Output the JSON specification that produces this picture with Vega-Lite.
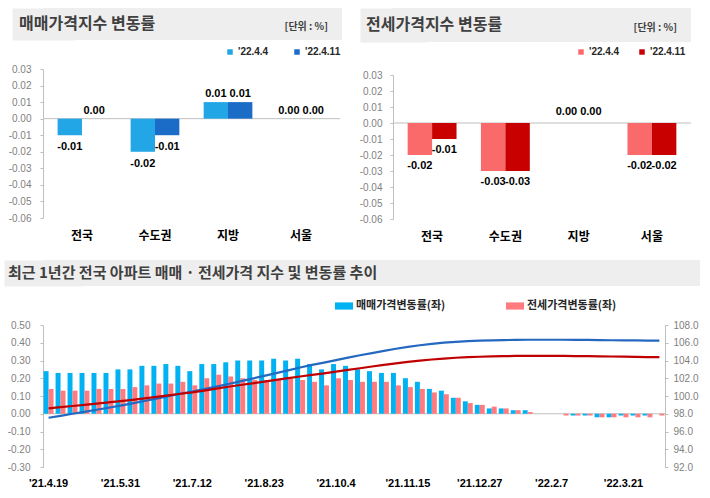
{
 "$schema": "https://vega.github.io/schema/vega-lite/v6.json",
 "padding": {"left": 7, "top": 8, "right": 2, "bottom": 2},
 "background": "white",
 "config": {
  "view": {"stroke": null},
  "font": "Noto Sans CJK KR",
  "locale": {"number": {"decimal": ".", "thousands": ",", "grouping": [3], "currency": ["", ""], "minus": "-"}},
  "axis": {"labelFont": "Liberation Sans", "labelColor": "#7f7f7f", "labelFontSize": 10, "domainColor": "#bfbfbf", "tickColor": "#bfbfbf", "tickSize": 3, "grid": false, "title": null, "labelOverlap": false},
  "axisY": {"labelOverlap": false},
  "legend": {"labelFont": "Liberation Sans", "labelFontWeight": "bold", "labelColor": "#262626", "title": null}
 },
 "spacing": 18,
 "align": "none",
 "resolve": {"scale": {"color": "independent", "xOffset": "independent"}, "legend": {"color": "independent"}},
 "vconcat": [
  {
   "spacing": 17,
   "align": "none",
   "resolve": {"scale": {"color": "independent", "xOffset": "independent"}, "legend": {"color": "independent"}},
   "hconcat": [
    {
     "spacing": 7,
     "align": "none",
     "resolve": {"scale": {"color": "independent", "xOffset": "independent"}, "legend": {"color": "independent"}},
     "vconcat": [
      {
       "width": 299, "height": 32,
       "view": {"fill": "#eeeeee", "stroke": null},
       "data": {"values": [{"t": "매매가격지수 변동률", "u": "[단위 : %]"}]},
       "encoding": {"y": {"datum": 0.5, "type": "quantitative", "scale": {"domain": [0, 1]}, "axis": {"domain": true, "domainColor": "#eeeeee", "domainWidth": 62, "labels": false, "ticks": false, "grid": false, "title": null}}},
       "layer": [
        {"mark": {"type": "text", "align": "left", "baseline": "middle", "dx": -24, "fontSize": 16, "fontWeight": "bold", "color": "#404040", "font": "Noto Sans CJK KR"},
         "encoding": {"text": {"field": "t"}, "x": {"datum": 0, "type": "quantitative", "scale": {"domain": [0, 1]}, "axis": null}}},
        {"mark": {"type": "text", "align": "right", "baseline": "middle", "dx": -14, "dy": 3, "fontSize": 10, "fontWeight": "bold", "color": "#404040", "font": "Noto Sans CJK KR"},
         "encoding": {"text": {"field": "u"}, "x": {"datum": 1, "type": "quantitative", "scale": {"domain": [0, 1]}, "axis": null}}}
       ]
      },
      {
       "width": 297, "height": 149,
       "data": {"values": [
        {"r": "전국", "w": "'22.4.4", "v": -0.01},
        {"r": "전국", "w": "'22.4.11", "v": 0.0},
        {"r": "수도권", "w": "'22.4.4", "v": -0.02},
        {"r": "수도권", "w": "'22.4.11", "v": -0.01},
        {"r": "지방", "w": "'22.4.4", "v": 0.01},
        {"r": "지방", "w": "'22.4.11", "v": 0.01},
        {"r": "서울", "w": "'22.4.4", "v": 0.0},
        {"r": "서울", "w": "'22.4.11", "v": 0.0}
       ]},
       "layer": [
        {"data": {"values": [{}]}, "mark": {"type": "rule", "color": "#bfbfbf"}, "encoding": {"y": {"datum": 0, "type": "quantitative", "scale": {"domain": [-0.06, 0.03], "nice": false, "zero": false}, "axis": {"values": [-0.06, -0.05, -0.04, -0.03, -0.02, -0.01, 0, 0.01, 0.02, 0.03], "format": ".2f", "labelPadding": 9, "labelOverlap": false}}}},
        {"mark": {"type": "bar"},
         "encoding": {
          "x": {"field": "r", "type": "nominal", "sort": ["전국", "수도권", "지방", "서울"], "scale": {"paddingInner": 0.333, "paddingOuter": 0.2}, "axis": {"labelFont": "Noto Sans CJK KR", "labelFontWeight": "bold", "labelFontSize": 12, "labelColor": "#000000", "domain": false, "ticks": false, "labelPadding": 12, "labelAngle": 0}},
          "xOffset": {"field": "w", "type": "nominal", "sort": ["'22.4.4", "'22.4.11"]},
          "y": {"field": "v", "type": "quantitative", "scale": {"domain": [-0.06, 0.03], "nice": false, "zero": false}, "axis": {"values": [-0.06, -0.05, -0.04, -0.03, -0.02, -0.01, 0, 0.01, 0.02, 0.03], "format": ".2f", "labelPadding": 9, "labelOverlap": false}},
          "color": {"field": "w", "type": "nominal", "scale": {"domain": ["'22.4.4", "'22.4.11"], "range": ["#22a6e6", "#1b6cc6"]}, "legend": {"orient": "none", "legendX": 182, "legendY": -22, "direction": "horizontal", "symbolType": "square", "symbolSize": 30, "symbolStrokeWidth": 0, "labelFontSize": 10, "columnPadding": 23, "labelOffset": 3}}
         }},
        {"transform": [{"filter": "datum.v < 0"}],
         "mark": {"type": "text", "baseline": "top", "dy": 6, "font": "Liberation Sans", "fontSize": 11, "fontWeight": "bold", "color": "#000000"},
         "encoding": {
          "x": {"field": "r", "type": "nominal", "sort": ["전국", "수도권", "지방", "서울"]},
          "xOffset": {"field": "w", "type": "nominal", "sort": ["'22.4.4", "'22.4.11"]},
          "y": {"field": "v", "type": "quantitative", "scale": {"domain": [-0.06, 0.03], "nice": false, "zero": false}, "axis": {"values": [-0.06, -0.05, -0.04, -0.03, -0.02, -0.01, 0, 0.01, 0.02, 0.03], "format": ".2f", "labelPadding": 9, "labelOverlap": false}},
          "text": {"field": "v", "type": "quantitative", "format": ".2f"}
         }},
        {"transform": [{"filter": "datum.v >= 0"}],
         "mark": {"type": "text", "baseline": "bottom", "dy": -3, "font": "Liberation Sans", "fontSize": 11, "fontWeight": "bold", "color": "#000000"},
         "encoding": {
          "x": {"field": "r", "type": "nominal", "sort": ["전국", "수도권", "지방", "서울"]},
          "xOffset": {"field": "w", "type": "nominal", "sort": ["'22.4.4", "'22.4.11"]},
          "y": {"field": "v", "type": "quantitative", "scale": {"domain": [-0.06, 0.03], "nice": false, "zero": false}, "axis": {"values": [-0.06, -0.05, -0.04, -0.03, -0.02, -0.01, 0, 0.01, 0.02, 0.03], "format": ".2f", "labelPadding": 9, "labelOverlap": false}},
          "text": {"field": "v", "type": "quantitative", "format": ".2f"}
         }}
       ]
      }
     ]
    },
    {
     "spacing": 5,
     "align": "none",
     "resolve": {"scale": {"color": "independent", "xOffset": "independent"}, "legend": {"color": "independent"}},
     "vconcat": [
      {
       "width": 298, "height": 34,
       "view": {"fill": "#eeeeee", "stroke": null},
       "data": {"values": [{"t": "전세가격지수 변동률", "u": "[단위 : %]"}]},
       "encoding": {"y": {"datum": 0.5, "type": "quantitative", "scale": {"domain": [0, 1]}, "axis": {"domain": true, "domainColor": "#eeeeee", "domainWidth": 66, "labels": false, "ticks": false, "grid": false, "title": null}}},
       "layer": [
        {"mark": {"type": "text", "align": "left", "baseline": "middle", "dx": -27, "fontSize": 16, "fontWeight": "bold", "color": "#404040", "font": "Noto Sans CJK KR"},
         "encoding": {"text": {"field": "t"}, "x": {"datum": 0, "type": "quantitative", "scale": {"domain": [0, 1]}, "axis": null}}},
        {"mark": {"type": "text", "align": "right", "baseline": "middle", "dx": -14, "dy": 3, "fontSize": 10, "fontWeight": "bold", "color": "#404040", "font": "Noto Sans CJK KR"},
         "encoding": {"text": {"field": "u"}, "x": {"datum": 1, "type": "quantitative", "scale": {"domain": [0, 1]}, "axis": null}}}
       ]
      },
      {
       "width": 298, "height": 144,
       "data": {"values": [
        {"r": "전국", "w": "'22.4.4", "v": -0.02},
        {"r": "전국", "w": "'22.4.11", "v": -0.01},
        {"r": "수도권", "w": "'22.4.4", "v": -0.03},
        {"r": "수도권", "w": "'22.4.11", "v": -0.03},
        {"r": "지방", "w": "'22.4.4", "v": 0.0},
        {"r": "지방", "w": "'22.4.11", "v": 0.0},
        {"r": "서울", "w": "'22.4.4", "v": -0.02},
        {"r": "서울", "w": "'22.4.11", "v": -0.02}
       ]},
       "layer": [
        {"data": {"values": [{}]}, "mark": {"type": "rule", "color": "#bfbfbf"}, "encoding": {"y": {"datum": 0, "type": "quantitative", "scale": {"domain": [-0.06, 0.03], "nice": false, "zero": false}, "axis": {"values": [-0.06, -0.05, -0.04, -0.03, -0.02, -0.01, 0, 0.01, 0.02, 0.03], "format": ".2f", "labelPadding": 8, "labelOverlap": false}}}},
        {"mark": {"type": "bar"},
         "encoding": {
          "x": {"field": "r", "type": "nominal", "sort": ["전국", "수도권", "지방", "서울"], "scale": {"paddingInner": 0.333, "paddingOuter": 0.2}, "axis": {"labelFont": "Noto Sans CJK KR", "labelFontWeight": "bold", "labelFontSize": 12, "labelColor": "#000000", "domain": false, "ticks": false, "labelPadding": 12, "labelAngle": 0}},
          "xOffset": {"field": "w", "type": "nominal", "sort": ["'22.4.4", "'22.4.11"]},
          "y": {"field": "v", "type": "quantitative", "scale": {"domain": [-0.06, 0.03], "nice": false, "zero": false}, "axis": {"values": [-0.06, -0.05, -0.04, -0.03, -0.02, -0.01, 0, 0.01, 0.02, 0.03], "format": ".2f", "labelPadding": 8, "labelOverlap": false}},
          "color": {"field": "w", "type": "nominal", "scale": {"domain": ["'22.4.4", "'22.4.11"], "range": ["#fa6a6a", "#c80000"]}, "legend": {"orient": "none", "legendX": 183, "legendY": -28, "direction": "horizontal", "symbolType": "square", "symbolSize": 30, "symbolStrokeWidth": 0, "labelFontSize": 10, "columnPadding": 17, "labelOffset": 3}}
         }},
        {"transform": [{"filter": "datum.v < 0"}],
         "mark": {"type": "text", "baseline": "top", "dy": 5, "font": "Liberation Sans", "fontSize": 11, "fontWeight": "bold", "color": "#000000"},
         "encoding": {
          "x": {"field": "r", "type": "nominal", "sort": ["전국", "수도권", "지방", "서울"]},
          "xOffset": {"field": "w", "type": "nominal", "sort": ["'22.4.4", "'22.4.11"]},
          "y": {"field": "v", "type": "quantitative", "scale": {"domain": [-0.06, 0.03], "nice": false, "zero": false}, "axis": {"values": [-0.06, -0.05, -0.04, -0.03, -0.02, -0.01, 0, 0.01, 0.02, 0.03], "format": ".2f", "labelPadding": 8, "labelOverlap": false}},
          "text": {"field": "v", "type": "quantitative", "format": ".2f"}
         }},
        {"transform": [{"filter": "datum.v >= 0"}],
         "mark": {"type": "text", "baseline": "bottom", "dy": -6, "font": "Liberation Sans", "fontSize": 11, "fontWeight": "bold", "color": "#000000"},
         "encoding": {
          "x": {"field": "r", "type": "nominal", "sort": ["전국", "수도권", "지방", "서울"]},
          "xOffset": {"field": "w", "type": "nominal", "sort": ["'22.4.4", "'22.4.11"]},
          "y": {"field": "v", "type": "quantitative", "scale": {"domain": [-0.06, 0.03], "nice": false, "zero": false}, "axis": {"values": [-0.06, -0.05, -0.04, -0.03, -0.02, -0.01, 0, 0.01, 0.02, 0.03], "format": ".2f", "labelPadding": 8, "labelOverlap": false}},
          "text": {"field": "v", "type": "quantitative", "format": ".2f"}
         }}
       ]
      }
     ]
    }
   ]
  },
  {
   "spacing": 11,
   "align": "none",
   "resolve": {"scale": {"color": "independent", "xOffset": "independent"}, "legend": {"color": "independent"}},
   "vconcat": [
    {
     "width": 657, "height": 26,
     "view": {"fill": "#eeeeee", "stroke": null},
     "data": {"values": [{"t": "최근 1년간 전국 아파트 매매 · 전세가격 지수 및 변동률 추이"}]},
     "mark": {"type": "text", "align": "left", "baseline": "middle", "dx": -35, "fontSize": 15, "fontWeight": "bold", "color": "#404040", "font": "Noto Sans CJK KR"},
     "encoding": {"text": {"field": "t"}, "x": {"datum": 0, "type": "quantitative", "scale": {"domain": [0, 1]}, "axis": null}, "y": {"datum": 0.5, "type": "quantitative", "scale": {"domain": [0, 1]}, "axis": {"domain": true, "domainColor": "#eeeeee", "domainWidth": 78, "labels": false, "ticks": false, "grid": false, "title": null}}}
    },
    {
     "width": 622, "height": 142,
     "data": {"values": [
      {"d": "'21.4.19", "매매": 0.24, "전세": 0.14, "si": 97.55, "ji": 98.61},
      {"d": "'21.4.26", "매매": 0.23, "전세": 0.13, "si": 97.77, "ji": 98.74},
      {"d": "'21.5.3", "매매": 0.23, "전세": 0.13, "si": 98.0, "ji": 98.87},
      {"d": "'21.5.10", "매매": 0.23, "전세": 0.13, "si": 98.22, "ji": 99.0},
      {"d": "'21.5.17", "매매": 0.23, "전세": 0.14, "si": 98.45, "ji": 99.14},
      {"d": "'21.5.24", "매매": 0.23, "전세": 0.14, "si": 98.68, "ji": 99.28},
      {"d": "'21.5.31", "매매": 0.25, "전세": 0.14, "si": 98.92, "ji": 99.42},
      {"d": "'21.6.7", "매매": 0.25, "전세": 0.15, "si": 99.17, "ji": 99.57},
      {"d": "'21.6.14", "매매": 0.27, "전세": 0.16, "si": 99.44, "ji": 99.73},
      {"d": "'21.6.21", "매매": 0.27, "전세": 0.17, "si": 99.7, "ji": 99.9},
      {"d": "'21.6.28", "매매": 0.28, "전세": 0.17, "si": 99.98, "ji": 100.07},
      {"d": "'21.7.5", "매매": 0.27, "전세": 0.18, "si": 100.25, "ji": 100.25},
      {"d": "'21.7.12", "매매": 0.24, "전세": 0.16, "si": 100.49, "ji": 100.41},
      {"d": "'21.7.19", "매매": 0.28, "전세": 0.2, "si": 100.77, "ji": 100.61},
      {"d": "'21.7.26", "매매": 0.28, "전세": 0.22, "si": 101.06, "ji": 100.83},
      {"d": "'21.8.2", "매매": 0.29, "전세": 0.21, "si": 101.35, "ji": 101.04},
      {"d": "'21.8.9", "매매": 0.3, "전세": 0.2, "si": 101.65, "ji": 101.24},
      {"d": "'21.8.16", "매매": 0.3, "전세": 0.19, "si": 101.96, "ji": 101.43},
      {"d": "'21.8.23", "매매": 0.3, "전세": 0.19, "si": 102.26, "ji": 101.62},
      {"d": "'21.8.30", "매매": 0.31, "전세": 0.19, "si": 102.58, "ji": 101.81},
      {"d": "'21.9.6", "매매": 0.3, "전세": 0.2, "si": 102.89, "ji": 102.01},
      {"d": "'21.9.13", "매매": 0.31, "전세": 0.19, "si": 103.21, "ji": 102.2},
      {"d": "'21.9.20", "매매": 0.28, "전세": 0.18, "si": 103.5, "ji": 102.38},
      {"d": "'21.9.27", "매매": 0.25, "전세": 0.16, "si": 103.76, "ji": 102.54},
      {"d": "'21.10.4", "매매": 0.28, "전세": 0.2, "si": 104.05, "ji": 102.75},
      {"d": "'21.10.11", "매매": 0.27, "전세": 0.19, "si": 104.33, "ji": 102.94},
      {"d": "'21.10.18", "매매": 0.25, "전세": 0.18, "si": 104.59, "ji": 103.13},
      {"d": "'21.10.25", "매매": 0.24, "전세": 0.18, "si": 104.84, "ji": 103.32},
      {"d": "'21.11.1", "매매": 0.23, "전세": 0.18, "si": 105.08, "ji": 103.51},
      {"d": "'21.11.8", "매매": 0.23, "전세": 0.16, "si": 105.32, "ji": 103.68},
      {"d": "'21.11.15", "매매": 0.2, "전세": 0.15, "si": 105.53, "ji": 103.84},
      {"d": "'21.11.22", "매매": 0.18, "전세": 0.14, "si": 105.72, "ji": 103.99},
      {"d": "'21.11.29", "매매": 0.14, "전세": 0.12, "si": 105.87, "ji": 104.11},
      {"d": "'21.12.6", "매매": 0.13, "전세": 0.11, "si": 106.01, "ji": 104.22},
      {"d": "'21.12.13", "매매": 0.09, "전세": 0.09, "si": 106.1, "ji": 104.31},
      {"d": "'21.12.20", "매매": 0.07, "전세": 0.06, "si": 106.18, "ji": 104.37},
      {"d": "'21.12.27", "매매": 0.05, "전세": 0.05, "si": 106.23, "ji": 104.42},
      {"d": "'22.1.3", "매매": 0.03, "전세": 0.04, "si": 106.26, "ji": 104.46},
      {"d": "'22.1.10", "매매": 0.03, "전세": 0.03, "si": 106.3, "ji": 104.49},
      {"d": "'22.1.17", "매매": 0.02, "전세": 0.02, "si": 106.32, "ji": 104.51},
      {"d": "'22.1.24", "매매": 0.02, "전세": 0.01, "si": 106.34, "ji": 104.52},
      {"d": "'22.1.31", "매매": 0.0, "전세": 0.0, "si": 106.34, "ji": 104.52},
      {"d": "'22.2.7", "매매": 0.0, "전세": 0.0, "si": 106.34, "ji": 104.52},
      {"d": "'22.2.14", "매매": 0.0, "전세": -0.01, "si": 106.34, "ji": 104.51},
      {"d": "'22.2.21", "매매": -0.01, "전세": -0.01, "si": 106.33, "ji": 104.5},
      {"d": "'22.2.28", "매매": -0.01, "전세": -0.01, "si": 106.32, "ji": 104.49},
      {"d": "'22.3.7", "매매": -0.02, "전세": -0.02, "si": 106.3, "ji": 104.47},
      {"d": "'22.3.14", "매매": -0.02, "전세": -0.02, "si": 106.28, "ji": 104.45},
      {"d": "'22.3.21", "매매": -0.01, "전세": -0.02, "si": 106.27, "ji": 104.43},
      {"d": "'22.3.28", "매매": -0.01, "전세": -0.02, "si": 106.26, "ji": 104.41},
      {"d": "'22.4.4", "매매": -0.01, "전세": -0.02, "si": 106.25, "ji": 104.39},
      {"d": "'22.4.11", "매매": 0.0, "전세": -0.01, "si": 106.25, "ji": 104.38}
     ]},
     "layer": [
      {
       "layer": [
        {"data": {"values": [{}]}, "mark": {"type": "rule", "color": "#bfbfbf"}, "encoding": {"y": {"datum": 0, "type": "quantitative", "scale": {"domain": [-0.3, 0.5], "nice": false, "zero": false}, "axis": {"values": [-0.3, -0.2, -0.1, 0, 0.1, 0.2, 0.3, 0.4, 0.5], "format": ".2f", "labelPadding": 10, "labelOverlap": false}}}},
        {"transform": [{"fold": ["매매", "전세"], "as": ["k", "rate"]}],
         "mark": {"type": "bar"},
         "encoding": {
          "x": {"field": "d", "type": "ordinal", "sort": null, "scale": {"paddingInner": 0.17, "paddingOuter": 0.05}, "axis": {"values": ["'21.4.19", "'21.5.31", "'21.7.12", "'21.8.23", "'21.10.4", "'21.11.15", "'21.12.27", "'22.2.7", "'22.3.21"], "labelFont": "Liberation Sans", "labelFontWeight": "bold", "labelFontSize": 11, "labelColor": "#000000", "domain": false, "ticks": false, "labelPadding": 10, "labelAngle": 0}},
          "xOffset": {"field": "k", "type": "nominal", "sort": ["매매", "전세"]},
          "y": {"field": "rate", "type": "quantitative", "scale": {"domain": [-0.3, 0.5], "nice": false, "zero": false}, "axis": {"values": [-0.3, -0.2, -0.1, 0, 0.1, 0.2, 0.3, 0.4, 0.5], "format": ".2f", "labelPadding": 10, "labelOverlap": false}},
          "color": {"field": "k", "type": "nominal", "scale": {"domain": ["매매", "전세"], "range": ["#00b2f2", "#ff7b80"]}, "legend": {"orient": "none", "legendX": 292, "legendY": -28, "direction": "horizontal", "symbolType": "M-1,-0.4H1V0.4H-1Z", "symbolSize": 324, "symbolStrokeWidth": 0, "labelFont": "Noto Sans CJK KR", "labelFontSize": 11, "labelColor": "#262626", "columnPadding": 60, "labelOffset": 3, "labelExpr": "datum.label + '가격변동률(좌)'"}}
         }}
       ]
      },
      {
       "layer": [
        {"mark": {"type": "line", "color": "#2468c0", "strokeWidth": 2.2},
         "encoding": {
          "x": {"field": "d", "type": "ordinal", "sort": null},
          "y": {"field": "si", "type": "quantitative", "scale": {"domain": [92, 108], "nice": false, "zero": false}, "axis": {"orient": "right", "values": [92, 94, 96, 98, 100, 102, 104, 106, 108], "format": ".1f", "labelPadding": 5, "labelOverlap": false}}
         }},
        {"mark": {"type": "line", "color": "#c00000", "strokeWidth": 2.2},
         "encoding": {
          "x": {"field": "d", "type": "ordinal", "sort": null},
          "y": {"field": "ji", "type": "quantitative", "scale": {"domain": [92, 108], "nice": false, "zero": false}, "axis": {"orient": "right", "values": [92, 94, 96, 98, 100, 102, 104, 106, 108], "format": ".1f", "labelPadding": 5, "labelOverlap": false}}
         }}
       ]
      }
     ],
     "resolve": {"scale": {"y": "independent"}}
    }
   ]
  }
 ]
}
